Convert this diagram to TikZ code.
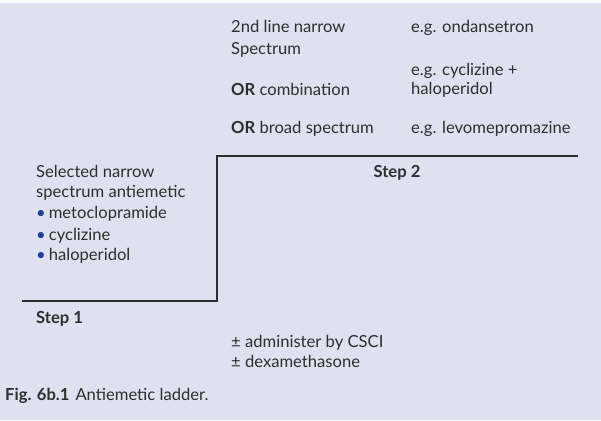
\documentclass[tikz,border=0pt]{standalone}
\usepackage{fontspec}
\setmainfont{Lato}
\definecolor{bgblue}{HTML}{DFE1F0}
\definecolor{inkgrey}{HTML}{2E2E2E}
\definecolor{dotblue}{HTML}{1F3F99}
\tikzset{
  lbl/.style={anchor=base west, inner sep=0pt, text=inkgrey, font=\fontsize{16.6}{20}\selectfont},
  rung/.style={line width=2pt, draw=inkgrey, line join=miter},
}
\newcommand{\blt}{\textcolor{dotblue}{\textbullet}\hspace{3pt}}
\begin{document}
\begin{tikzpicture}[x=1pt,y=-1pt]
\fill[white] (0,0) rectangle (601,420);
\fill[bgblue] (0,3) rectangle (601,420);
\useasboundingbox (0,0) rectangle (601,420);

\coordinate (low) at (22,301);
\coordinate (knee) at (217,301);
\coordinate (top) at (217,156);
\coordinate (high) at (578,156);
\draw[rung] (low) -- (knee) -- (top) -- (high);

\node[lbl] (second) at (231,33) {2nd line narrow};
\node[lbl] (spec) at (231,54) {Spectrum};
\node[lbl] (orcomb) at (231,95) {\textbf{OR} combination};
\node[lbl] (orbroad) at (231,133) {\textbf{OR} broad spectrum};

\node[lbl] (egond) at (411,33) {e.g. ondansetron};
\node[lbl] (egcyc) at (411,75) {e.g. cyclizine +};
\node[lbl] (eghal) at (411,94) {haloperidol};
\node[lbl] (eglevo) at (411,133) {e.g. levomepromazine};

\node[lbl, anchor=base] (steptwo) at (397,177) {\textbf{Step 2}};

\node[lbl] (sel) at (36,177) {Selected narrow};
\node[lbl] (anti) at (36,197) {spectrum antiemetic};
\node[lbl] (meto) at (36,218) {\blt metoclopramide};
\node[lbl] (cycl) at (36,240) {\blt cyclizine};
\node[lbl] (halo) at (36,260) {\blt haloperidol};

\node[lbl] (stepone) at (36,323) {\textbf{Step 1}};

\node[lbl] (csci) at (231,347) {± administer by CSCI};
\node[lbl] (dexa) at (231,367) {± dexamethasone};

\node[lbl] (caption) at (5,400) {\textbf{Fig. 6b.1}\hspace{6pt}Antiemetic ladder.};
\end{tikzpicture}
\end{document}
